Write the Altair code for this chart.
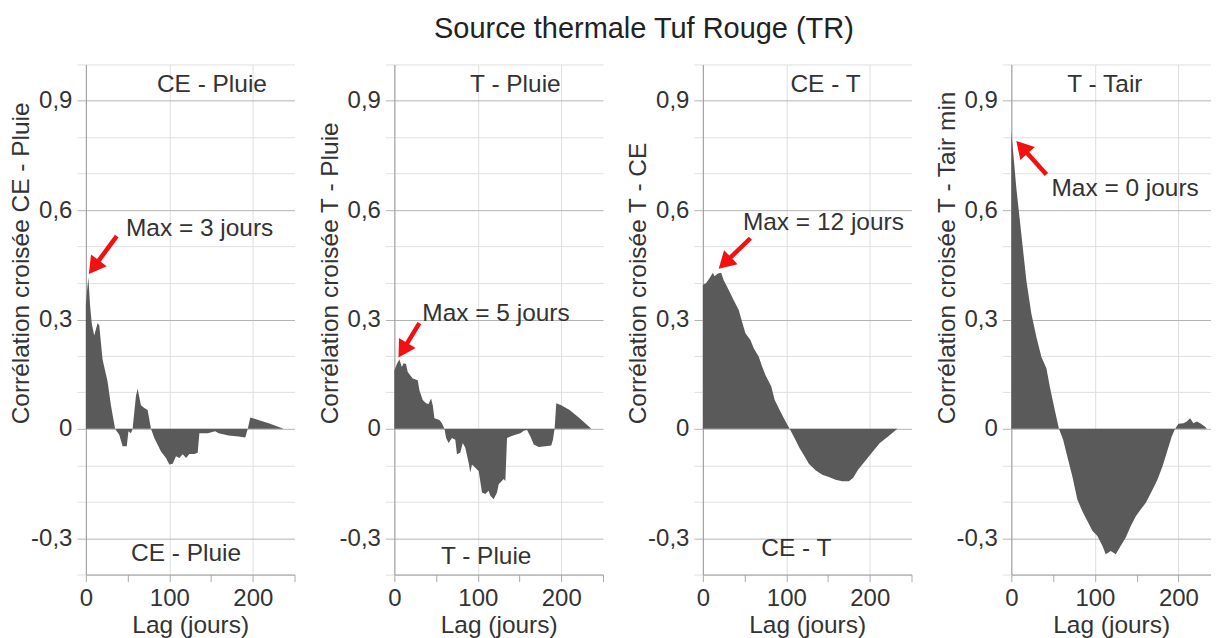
import math
import altair as alt
import pandas as pd

FONT = "Liberation Sans"
TITLE = "Source thermale Tuf Rouge (TR)"
X_TITLE = "Lag (jours)"

# ---- Panel 1 : CE - Pluie
lag_ce_pluie = [0, 1, 3, 5, 7, 10, 14, 16, 20, 26, 30, 35, 40, 44, 49, 51, 54, 56, 60, 62, 66, 70, 74, 78,
                82, 90, 96, 100, 104, 108, 112, 116, 120, 124, 130, 134, 136, 146, 155, 159, 171, 183, 191,
                194, 197, 203, 219, 237]
r_ce_pluie = [0.34, 0.37, 0.415, 0.34, 0.29, 0.256, 0.29, 0.284, 0.19, 0.13, 0.065, 0.0, -0.016, -0.048,
              -0.048, -0.007, -0.012, 0.0, 0.09, 0.11, 0.065, 0.057, 0.052, 0.0, -0.025, -0.062, -0.08,
              -0.098, -0.096, -0.075, -0.08, -0.07, -0.08, -0.069, -0.069, -0.066, -0.012, -0.012, -0.007,
              -0.012, -0.018, -0.021, -0.024, 0.0, 0.031, 0.027, 0.015, 0.0]

# ---- Panel 2 : T - Pluie
lag_t_pluie = [0, 3, 6, 9, 11, 14, 16, 19, 22, 28, 30, 34, 38, 41, 44, 46, 48, 54, 57, 60, 62, 65, 69, 73,
               75, 79, 82, 85, 89, 91, 93, 97, 101, 105, 109, 113, 115, 119, 123, 125, 131, 133, 135, 139,
               145, 151, 155, 159, 163, 167, 173, 181, 188, 190, 192, 194, 200, 210, 222, 236]
r_t_pluie = [0.16, 0.178, 0.19, 0.17, 0.18, 0.178, 0.156, 0.147, 0.138, 0.133, 0.106, 0.079, 0.07, 0.068,
             0.083, 0.065, 0.029, 0.024, 0.015, 0.0, -0.025, -0.039, -0.025, -0.03, -0.07, -0.066, -0.039,
             -0.052, -0.093, -0.12, -0.098, -0.107, -0.116, -0.175, -0.179, -0.17, -0.184, -0.193, -0.175,
             -0.152, -0.138, -0.143, -0.025, -0.021, -0.016, -0.012, -0.005, -0.003, -0.021, -0.043, -0.05,
             -0.048, -0.046, -0.03, 0.0, 0.07, 0.065, 0.052, 0.029, 0.0]

# ---- Panel 3 : CE - T
lag_ce_t = [0, 4, 8, 12, 14, 18, 22, 25, 31, 37, 43, 47, 51, 57, 61, 67, 71, 75, 78, 82, 86, 92, 98, 104,
            110, 116, 122, 127, 135, 143, 151, 159, 167, 175, 180, 186, 194, 202, 212, 222, 233]
r_ce_t = [0.395, 0.4, 0.413, 0.428, 0.419, 0.426, 0.428, 0.408, 0.381, 0.353, 0.326, 0.294, 0.262, 0.244,
          0.221, 0.198, 0.171, 0.148, 0.134, 0.116, 0.08, 0.052, 0.025, 0.0, -0.026, -0.053, -0.076, -0.096,
          -0.114, -0.126, -0.132, -0.14, -0.144, -0.144, -0.135, -0.112, -0.09, -0.067, -0.039, -0.021, 0.0]

# ---- Panel 4 : T - Tair
lag_t_tair = [0, 6, 12, 18, 24, 30, 36, 42, 46, 52, 57, 62, 67, 73, 79, 85, 91, 97, 103, 109, 113, 119,
              125, 131, 137, 143, 149, 155, 161, 169, 175, 181, 186, 192, 196, 200, 206, 210, 214, 218, 222,
              226, 232, 234]
r_t_tair = [0.816, 0.66, 0.534, 0.407, 0.316, 0.252, 0.197, 0.166, 0.116, 0.052, 0.0, -0.03, -0.076, -0.13,
            -0.194, -0.226, -0.253, -0.28, -0.294, -0.321, -0.344, -0.335, -0.344, -0.321, -0.298, -0.267,
            -0.24, -0.221, -0.203, -0.167, -0.139, -0.103, -0.066, -0.021, 0.0, 0.014, 0.015, 0.02, 0.029,
            0.015, 0.02, 0.015, 0.006, 0.0]

lags = [lag_ce_pluie, lag_t_pluie, lag_ce_t, lag_t_tair]
rs = [r_ce_pluie, r_t_pluie, r_ce_t, r_t_tair]

y_titles = ["Corrélation croisée CE - Pluie", "Corrélation croisée T - Pluie",
            "Corrélation croisée T - CE", "Corrélation croisée T - Tair min"]
top_labels = ["CE - Pluie", "T - Pluie", "CE - T", "T - Tair"]
top_label_lag = [151, 145, 147, 112]
top_label_r = [0.943, 0.943, 0.943, 0.943]
bottom_labels = ["CE - Pluie", "T - Pluie", "CE - T", None]
bottom_label_lag = [120, 110, 112, None]
bottom_label_r = [-0.343, -0.352, -0.33, None]
max_texts = ["Max = 3 jours", "Max = 5 jours", "Max = 12 jours", "Max = 0 jours"]
max_text_lag = [48, 33.5, 48, 48]
max_text_r = [0.548, 0.316, 0.564, 0.657]
arrow_tail_lag = [37, 30, 57, 42]
arrow_tail_r = [0.529, 0.29, 0.523, 0.698]
arrow_tip_lag = [3.6, 5, 19, 6]
arrow_tip_r = [0.425, 0.196, 0.439, 0.79]

x_max = [250, 250, 250, 239]
y_ticks = [-0.4, -0.3, -0.2, -0.1, 0.0, 0.1, 0.2, 0.3, 0.4, 0.5, 0.6, 0.7, 0.8, 0.9, 1.0]
x_ticks = [0, 50, 100, 150, 200, 250]

WIDTHS = [209, 209, 209, 200]
HEIGHT = 511
HEAD_SIZE = 380
TXT = "#333333"
RED = "#f21010"
FS = 24.5

major_test = "abs(round(datum.value*10)) % 3 === 0 && datum.value < 0.95"
y_label_expr = (
    "abs(round(datum.value*10)) % 3 === 0 && datum.value < 0.95 ? "
    "(abs(datum.value) < 0.01 ? '0' : (datum.value < 0 ? '-' : '') + "
    "replace(format(abs(datum.value), '.1f'), '.', ',')) : ''"
)


def panel(i):
    df = pd.DataFrame({"lag": lags[i], "r": rs[i]})
    xs = alt.Scale(domain=[0, x_max[i]], nice=False, zero=False)
    ys = alt.Scale(domain=[-0.4, 1.0], nice=False)
    x_axis = alt.Axis(
        values=[v for v in x_ticks if v <= x_max[i]],
        tickCount=40,
        title=X_TITLE,
        labelExpr="datum.value % 100 === 0 ? datum.label : ''",
        gridColor={"condition": {"test": "datum.value % 100 === 0", "value": "#dedede"},
                   "value": "rgba(0,0,0,0)"},
        tickColor="#aaaaaa", tickSize=7, labelPadding=5, titlePadding=3,
        labelFlush=False, labelFontSize=24,
    )
    y_axis = alt.Axis(
        values=y_ticks,
        tickCount=40,
        title=y_titles[i],
        labelExpr=y_label_expr,
        gridColor={"condition": {"test": major_test, "value": "#b4b4b4"}, "value": "#e0e0e0"},
        tickColor={"condition": {"test": major_test, "value": "#b4b4b4"}, "value": "#e0e0e0"},
        tickSize=9, labelPadding=5, labelFontSize=24,
        titleAngle=270, titleAlign="left", titleBaseline="middle",
        titleX=-64, titleY=360, titleFontSize=FS,
    )
    area = alt.Chart(df).mark_area(color="#5a5a5a", interpolate="linear").encode(
        x=alt.X("lag:Q", scale=xs, axis=x_axis),
        y=alt.Y("r:Q", scale=ys, axis=y_axis),
        y2=alt.datum(0),
    )

    lab_rows = [{"lag": top_label_lag[i], "r": top_label_r[i], "label": top_labels[i]}]
    if bottom_labels[i]:
        lab_rows.append({"lag": bottom_label_lag[i], "r": bottom_label_r[i], "label": bottom_labels[i]})
    labels = alt.Chart(pd.DataFrame(lab_rows)).mark_text(
        align="center", baseline="middle", font=FONT, fontSize=FS, color=TXT
    ).encode(x=alt.X("lag:Q", scale=xs), y=alt.Y("r:Q", scale=ys), text="label:N")

    mx = alt.Chart(pd.DataFrame([{"lag": max_text_lag[i], "r": max_text_r[i], "label": max_texts[i]}])).mark_text(
        align="left", baseline="middle", font=FONT, fontSize=FS, color=TXT
    ).encode(x=alt.X("lag:Q", scale=xs), y=alt.Y("r:Q", scale=ys), text="label:N")

    # arrow geometry (pixel directions derived from scale factors)
    px_lag = WIDTHS[i] / x_max[i]
    px_r = HEIGHT / 1.4
    dx = (arrow_tip_lag[i] - arrow_tail_lag[i]) * px_lag
    dy = -(arrow_tip_r[i] - arrow_tail_r[i]) * px_r
    L = math.hypot(dx, dy)
    ux, uy = dx / L, dy / L
    h = 0.433 * math.sqrt(HEAD_SIZE)
    head_lag = arrow_tip_lag[i] - ux * h / px_lag
    head_r = arrow_tip_r[i] + uy * h / px_r
    angle = math.degrees(math.atan2(dx, -dy)) % 360

    arrow_df = pd.DataFrame([{"lag": arrow_tail_lag[i], "r": arrow_tail_r[i],
                              "lag2": head_lag, "r2": head_r}])
    line = alt.Chart(arrow_df).mark_rule(color=RED, strokeWidth=4.5).encode(
        x=alt.X("lag:Q", scale=xs), y=alt.Y("r:Q", scale=ys), x2="lag2:Q", y2="r2:Q"
    )
    head = alt.Chart(pd.DataFrame([{"lag": head_lag, "r": head_r}])).mark_point(
        shape="triangle-up", filled=True, size=HEAD_SIZE, color=RED, opacity=1, angle=angle
    ).encode(x=alt.X("lag:Q", scale=xs), y=alt.Y("r:Q", scale=ys))

    return alt.layer(area, labels, mx, line, head).properties(width=WIDTHS[i], height=HEIGHT)


panels = [panel(i) for i in range(4)]

chart = alt.hconcat(*panels, spacing=100, bounds="flush").properties(
    title=alt.TitleParams(TITLE, fontSize=29, font=FONT, fontWeight="normal", color="#222222",
                          anchor="middle", dx=34, offset=20),
    padding={"left": 0, "top": 6, "right": 0, "bottom": 0},
).configure_view(stroke=None).configure_axis(
    labelFont=FONT, titleFont=FONT, labelFontSize=24, titleFontSize=FS,
    labelColor=TXT, titleColor=TXT, titleFontWeight="normal",
    domainColor="#9a9a9a", domainWidth=1, gridWidth=1,
)

chart.save("out.html", embed_options={"renderer": "svg", "actions": False})
